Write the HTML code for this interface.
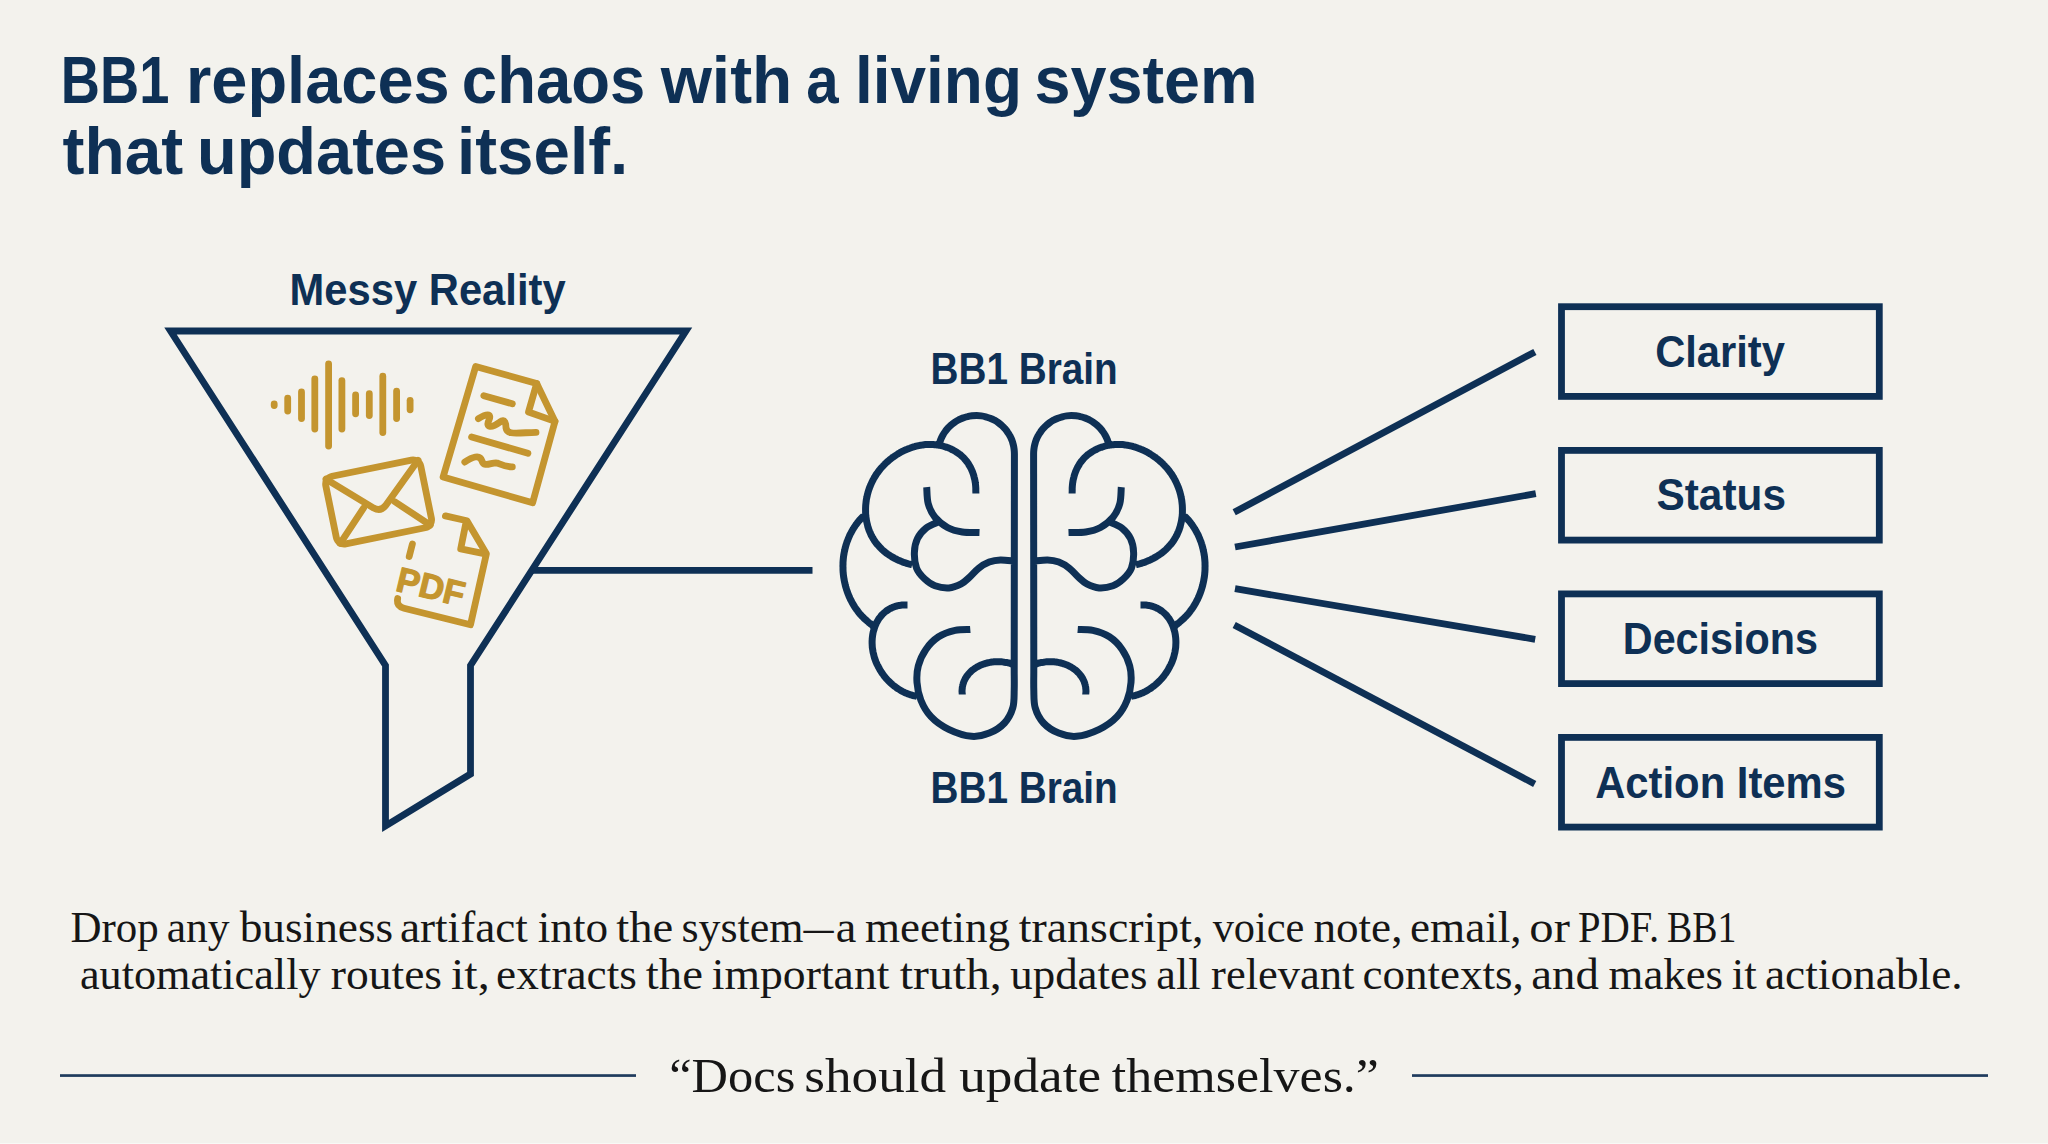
<!DOCTYPE html>
<html><head><meta charset="utf-8"><style>
html,body{margin:0;padding:0;background:#f3f2ed;}
svg{display:block}
</style></head><body>
<svg width="2048" height="1144" viewBox="0 0 2048 1144">
<rect width="2048" height="1144" fill="#f3f2ed"/>
<text x="60.80" y="102.90" font-family="Liberation Sans" font-size="66.8" font-weight="bold" fill="#0e3055" textLength="108.61" lengthAdjust="spacingAndGlyphs" >BB1</text>
<text x="186.05" y="102.90" font-family="Liberation Sans" font-size="66.8" font-weight="bold" fill="#0e3055" textLength="263.60" lengthAdjust="spacingAndGlyphs" >replaces</text>
<text x="461.86" y="102.90" font-family="Liberation Sans" font-size="66.8" font-weight="bold" fill="#0e3055" textLength="183.42" lengthAdjust="spacingAndGlyphs" >chaos</text>
<text x="660.70" y="102.90" font-family="Liberation Sans" font-size="66.8" font-weight="bold" fill="#0e3055" textLength="131.58" lengthAdjust="spacingAndGlyphs" >with</text>
<text x="806.15" y="102.90" font-family="Liberation Sans" font-size="66.8" font-weight="bold" fill="#0e3055" textLength="32.41" lengthAdjust="spacingAndGlyphs" >a</text>
<text x="855.02" y="102.90" font-family="Liberation Sans" font-size="66.8" font-weight="bold" fill="#0e3055" textLength="166.98" lengthAdjust="spacingAndGlyphs" >living</text>
<text x="1034.41" y="102.90" font-family="Liberation Sans" font-size="66.8" font-weight="bold" fill="#0e3055" textLength="223.17" lengthAdjust="spacingAndGlyphs" >system</text>
<text x="62.54" y="174.30" font-family="Liberation Sans" font-size="66.8" font-weight="bold" fill="#0e3055" textLength="120.78" lengthAdjust="spacingAndGlyphs" >that</text>
<text x="197.00" y="174.30" font-family="Liberation Sans" font-size="66.8" font-weight="bold" fill="#0e3055" textLength="249.11" lengthAdjust="spacingAndGlyphs" >updates</text>
<text x="457.12" y="174.30" font-family="Liberation Sans" font-size="66.8" font-weight="bold" fill="#0e3055" textLength="171.05" lengthAdjust="spacingAndGlyphs" >itself.</text>
<text x="289.58" y="304.70" font-family="Liberation Sans" font-size="44.6" font-weight="bold" fill="#0e3055" textLength="276.04" lengthAdjust="spacingAndGlyphs" >Messy Reality</text>
<text x="930.59" y="384.10" font-family="Liberation Sans" font-size="44.6" font-weight="bold" fill="#0e3055" textLength="187.09" lengthAdjust="spacingAndGlyphs" >BB1 Brain</text>
<text x="930.59" y="802.60" font-family="Liberation Sans" font-size="44.6" font-weight="bold" fill="#0e3055" textLength="187.09" lengthAdjust="spacingAndGlyphs" >BB1 Brain</text>
<text x="1655.13" y="366.90" font-family="Liberation Sans" font-size="44.6" font-weight="bold" fill="#0e3055" textLength="129.80" lengthAdjust="spacingAndGlyphs" >Clarity</text>
<text x="1656.53" y="510.00" font-family="Liberation Sans" font-size="44.6" font-weight="bold" fill="#0e3055" textLength="129.46" lengthAdjust="spacingAndGlyphs" >Status</text>
<text x="1622.81" y="653.70" font-family="Liberation Sans" font-size="44.6" font-weight="bold" fill="#0e3055" textLength="195.23" lengthAdjust="spacingAndGlyphs" >Decisions</text>
<text x="1595.15" y="797.60" font-family="Liberation Sans" font-size="44.6" font-weight="bold" fill="#0e3055" textLength="250.89" lengthAdjust="spacingAndGlyphs" >Action Items</text>
<text x="70.41" y="941.70" font-family="Liberation Serif" font-size="44" font-weight="normal" fill="#161616" textLength="88.23" lengthAdjust="spacingAndGlyphs" >Drop</text>
<text x="166.66" y="941.70" font-family="Liberation Serif" font-size="44" font-weight="normal" fill="#161616" textLength="62.85" lengthAdjust="spacingAndGlyphs" >any</text>
<text x="239.70" y="941.70" font-family="Liberation Serif" font-size="44" font-weight="normal" fill="#161616" textLength="153.53" lengthAdjust="spacingAndGlyphs" >business</text>
<text x="399.99" y="941.70" font-family="Liberation Serif" font-size="44" font-weight="normal" fill="#161616" textLength="127.86" lengthAdjust="spacingAndGlyphs" >artifact</text>
<text x="537.70" y="941.70" font-family="Liberation Serif" font-size="44" font-weight="normal" fill="#161616" textLength="70.38" lengthAdjust="spacingAndGlyphs" >into</text>
<text x="616.33" y="941.70" font-family="Liberation Serif" font-size="44" font-weight="normal" fill="#161616" textLength="57.01" lengthAdjust="spacingAndGlyphs" >the</text>
<text x="681.44" y="941.70" font-family="Liberation Serif" font-size="44" font-weight="normal" fill="#161616" textLength="122.09" lengthAdjust="spacingAndGlyphs" >system</text>
<text x="803.60" y="941.70" font-family="Liberation Serif" font-size="44" font-weight="normal" fill="#161616" textLength="30.10" lengthAdjust="spacingAndGlyphs" >—</text>
<text x="835.75" y="941.70" font-family="Liberation Serif" font-size="44" font-weight="normal" fill="#161616" textLength="20.56" lengthAdjust="spacingAndGlyphs" >a</text>
<text x="865.00" y="941.70" font-family="Liberation Serif" font-size="44" font-weight="normal" fill="#161616" textLength="144.91" lengthAdjust="spacingAndGlyphs" >meeting</text>
<text x="1018.74" y="941.70" font-family="Liberation Serif" font-size="44" font-weight="normal" fill="#161616" textLength="184.66" lengthAdjust="spacingAndGlyphs" >transcript,</text>
<text x="1212.70" y="941.70" font-family="Liberation Serif" font-size="44" font-weight="normal" fill="#161616" textLength="91.73" lengthAdjust="spacingAndGlyphs" >voice</text>
<text x="1313.40" y="941.70" font-family="Liberation Serif" font-size="44" font-weight="normal" fill="#161616" textLength="89.04" lengthAdjust="spacingAndGlyphs" >note,</text>
<text x="1410.09" y="941.70" font-family="Liberation Serif" font-size="44" font-weight="normal" fill="#161616" textLength="111.52" lengthAdjust="spacingAndGlyphs" >email,</text>
<text x="1529.35" y="941.70" font-family="Liberation Serif" font-size="44" font-weight="normal" fill="#161616" textLength="40.57" lengthAdjust="spacingAndGlyphs" >or</text>
<text x="1577.88" y="941.70" font-family="Liberation Serif" font-size="44" font-weight="normal" fill="#161616" textLength="81.34" lengthAdjust="spacingAndGlyphs" >PDF.</text>
<text x="1667.07" y="941.70" font-family="Liberation Serif" font-size="44" font-weight="normal" fill="#161616" textLength="69.33" lengthAdjust="spacingAndGlyphs" >BB1</text>
<text x="79.93" y="988.60" font-family="Liberation Serif" font-size="44" font-weight="normal" fill="#161616" textLength="240.62" lengthAdjust="spacingAndGlyphs" >automatically</text>
<text x="330.79" y="988.60" font-family="Liberation Serif" font-size="44" font-weight="normal" fill="#161616" textLength="111.31" lengthAdjust="spacingAndGlyphs" >routes</text>
<text x="451.04" y="988.60" font-family="Liberation Serif" font-size="44" font-weight="normal" fill="#161616" textLength="38.70" lengthAdjust="spacingAndGlyphs" >it,</text>
<text x="496.09" y="988.60" font-family="Liberation Serif" font-size="44" font-weight="normal" fill="#161616" textLength="140.75" lengthAdjust="spacingAndGlyphs" >extracts</text>
<text x="645.83" y="988.60" font-family="Liberation Serif" font-size="44" font-weight="normal" fill="#161616" textLength="57.12" lengthAdjust="spacingAndGlyphs" >the</text>
<text x="711.79" y="988.60" font-family="Liberation Serif" font-size="44" font-weight="normal" fill="#161616" textLength="177.65" lengthAdjust="spacingAndGlyphs" >important</text>
<text x="899.82" y="988.60" font-family="Liberation Serif" font-size="44" font-weight="normal" fill="#161616" textLength="101.93" lengthAdjust="spacingAndGlyphs" >truth,</text>
<text x="1010.25" y="988.60" font-family="Liberation Serif" font-size="44" font-weight="normal" fill="#161616" textLength="137.16" lengthAdjust="spacingAndGlyphs" >updates</text>
<text x="1156.34" y="988.60" font-family="Liberation Serif" font-size="44" font-weight="normal" fill="#161616" textLength="44.07" lengthAdjust="spacingAndGlyphs" >all</text>
<text x="1211.11" y="988.60" font-family="Liberation Serif" font-size="44" font-weight="normal" fill="#161616" textLength="143.40" lengthAdjust="spacingAndGlyphs" >relevant</text>
<text x="1362.50" y="988.60" font-family="Liberation Serif" font-size="44" font-weight="normal" fill="#161616" textLength="161.27" lengthAdjust="spacingAndGlyphs" >contexts,</text>
<text x="1531.33" y="988.60" font-family="Liberation Serif" font-size="44" font-weight="normal" fill="#161616" textLength="67.59" lengthAdjust="spacingAndGlyphs" >and</text>
<text x="1608.61" y="988.60" font-family="Liberation Serif" font-size="44" font-weight="normal" fill="#161616" textLength="114.29" lengthAdjust="spacingAndGlyphs" >makes</text>
<text x="1731.70" y="988.60" font-family="Liberation Serif" font-size="44" font-weight="normal" fill="#161616" textLength="25.01" lengthAdjust="spacingAndGlyphs" >it</text>
<text x="1764.99" y="988.60" font-family="Liberation Serif" font-size="44" font-weight="normal" fill="#161616" textLength="197.69" lengthAdjust="spacingAndGlyphs" >actionable.</text>
<text x="669.18" y="1092.00" font-family="Liberation Serif" font-size="49" font-weight="normal" fill="#161616" textLength="126.10" lengthAdjust="spacingAndGlyphs" >“Docs</text>
<text x="804.37" y="1092.00" font-family="Liberation Serif" font-size="49" font-weight="normal" fill="#161616" textLength="141.73" lengthAdjust="spacingAndGlyphs" >should</text>
<text x="959.27" y="1092.00" font-family="Liberation Serif" font-size="49" font-weight="normal" fill="#161616" textLength="141.76" lengthAdjust="spacingAndGlyphs" >update</text>
<text x="1111.78" y="1092.00" font-family="Liberation Serif" font-size="49" font-weight="normal" fill="#161616" textLength="267.20" lengthAdjust="spacingAndGlyphs" >themselves.”</text>
<rect x="60" y="1074.2" width="576" height="2.7" fill="#1f3b5d"/>
<rect x="1412" y="1074.2" width="576" height="2.7" fill="#1f3b5d"/>
<path d="M170.5,331 L686,331 L470.5,665.5 L470.5,774 L385.5,826 L385.5,665.5 Z" fill="none" stroke="#0e3055" stroke-width="6.8" stroke-linejoin="miter" stroke-miterlimit="10"/>
<line x1="532" y1="570.3" x2="812.5" y2="570.3" stroke="#0e3055" stroke-width="6.8"/>
<line x1="1234.2" y1="512.3" x2="1534.9" y2="351.9" stroke="#0e3055" stroke-width="6.8"/>
<line x1="1235" y1="547" x2="1535.8" y2="493.6" stroke="#0e3055" stroke-width="6.8"/>
<line x1="1235" y1="588.7" x2="1535.2" y2="639.3" stroke="#0e3055" stroke-width="6.8"/>
<line x1="1234.2" y1="624.9" x2="1534.7" y2="783.9" stroke="#0e3055" stroke-width="6.8"/>
<rect x="1561.5" y="306.7" width="317.8" height="89.7" fill="none" stroke="#0e3055" stroke-width="6.8"/>
<rect x="1561.5" y="450.4" width="317.8" height="89.7" fill="none" stroke="#0e3055" stroke-width="6.8"/>
<rect x="1561.5" y="593.9" width="317.8" height="89.7" fill="none" stroke="#0e3055" stroke-width="6.8"/>
<rect x="1561.5" y="737.4" width="317.8" height="89.7" fill="none" stroke="#0e3055" stroke-width="6.8"/>
<g fill="none" stroke="#0e3055" stroke-width="7" stroke-linecap="butt" stroke-linejoin="round">
<path d="M939.3,443.8 C939.6,443.1 940.2,440.9 940.8,439.4 C941.4,438.0 942.0,436.7 942.8,435.3 C943.5,434.0 944.3,432.7 945.2,431.5 C946.1,430.2 947.1,429.0 948.1,427.9 C949.1,426.8 950.2,425.7 951.4,424.7 C952.6,423.8 953.8,422.8 955.1,422.0 C956.3,421.1 957.7,420.4 959.0,419.7 C960.4,419.0 961.8,418.4 963.2,417.9 C964.7,417.4 966.1,416.9 967.6,416.6 C969.1,416.2 970.6,416.0 972.1,415.8 C973.6,415.7 975.2,415.6 976.7,415.6 C978.2,415.6 979.7,415.7 981.3,415.9 C982.8,416.1 984.3,416.4 985.7,416.8 C987.2,417.2 988.7,417.7 990.1,418.2 C991.5,418.8 992.9,419.4 994.3,420.1 C995.6,420.9 996.9,421.7 998.1,422.5 C999.4,423.4 1000.6,424.4 1001.7,425.4 C1002.9,426.4 1003.9,427.5 1004.9,428.6 C1005.9,429.8 1006.9,431.0 1007.7,432.3 C1008.6,433.5 1009.4,434.8 1010.1,436.2 C1010.8,437.5 1011.4,438.9 1012.0,440.4 C1012.5,441.8 1012.9,443.3 1013.3,444.7 C1013.7,446.2 1013.9,447.7 1014.1,449.2 C1014.3,450.7 1014.4,451.7 1014.4,453.8 C1014.4,455.9 1014.4,460.6 1014.4,462.0 L1014.2,672  C1014.2,675.0 1014.4,684.0 1014.2,690.0 C1014.0,696.0 1014.4,702.3 1012.8,707.8 C1011.2,713.3 1008.4,718.8 1004.5,723.0 C1000.6,727.2 994.8,730.9 989.3,733.1 C983.8,735.3 978.4,736.9 971.6,736.3 C964.8,735.7 955.5,732.6 948.7,729.3 C941.9,726.0 935.6,721.5 931.0,716.6 C926.4,711.8 923.2,705.9 920.9,700.2 C918.6,694.5 917.4,688.1 917.0,682.4 C916.6,676.7 916.8,671.4 918.3,665.9 C919.8,660.4 922.5,654.2 925.9,649.4 C929.3,644.5 933.7,640.0 938.6,636.8 C943.5,633.6 949.8,631.6 955.1,630.4 C960.4,629.2 967.8,629.6 970.3,629.4 M975.9,493.4 C975.9,493.0 975.8,491.7 975.8,490.8 C975.8,489.9 975.8,489.0 975.8,488.0 C975.7,487.1 975.7,486.2 975.6,485.3 C975.5,484.3 975.4,483.4 975.3,482.5 C975.1,481.6 975.0,480.7 974.8,479.8 C974.6,478.9 974.4,478.0 974.1,477.1 C973.9,476.2 973.7,475.3 973.4,474.4 C973.1,473.6 972.8,472.7 972.5,471.8 C972.1,471.0 971.8,470.1 971.4,469.3 C971.0,468.5 970.6,467.7 970.2,466.9 C969.8,466.1 969.3,465.3 968.8,464.6 C968.4,463.8 967.9,463.1 967.4,462.3 C966.8,461.6 966.3,460.9 965.7,460.2 C965.2,459.5 964.6,458.9 964.0,458.2 C963.4,457.6 962.7,457.0 962.1,456.4 C961.4,455.8 960.8,455.2 960.1,454.7 C959.4,454.1 958.7,453.6 958.0,453.1 C957.2,452.6 956.5,452.1 955.8,451.6 C955.0,451.1 954.2,450.7 953.5,450.3 C952.7,449.8 951.9,449.4 951.1,449.1 C950.3,448.7 949.5,448.3 948.7,448.0 C947.9,447.7 947.0,447.4 946.2,447.1 C945.4,446.8 944.5,446.5 943.7,446.3 C942.8,446.0 942.0,445.8 941.1,445.6 C940.2,445.4 939.4,445.3 938.5,445.1 C937.6,445.0 936.8,444.9 935.9,444.8 C935.0,444.7 934.2,444.6 933.3,444.5 C932.4,444.5 931.5,444.4 930.6,444.4 C929.8,444.4 928.9,444.4 928.0,444.5 C927.1,444.5 926.3,444.6 925.4,444.6 C924.5,444.7 923.6,444.8 922.7,444.9 C921.9,445.0 921.0,445.2 920.1,445.3 C919.2,445.5 918.4,445.7 917.5,445.9 C916.6,446.1 915.8,446.3 914.9,446.5 C914.0,446.8 913.2,447.0 912.3,447.3 C911.5,447.6 910.6,447.9 909.8,448.2 C908.9,448.5 908.1,448.8 907.3,449.2 C906.4,449.5 905.6,449.9 904.8,450.2 C904.0,450.6 903.1,451.0 902.3,451.4 C901.5,451.8 900.7,452.3 899.9,452.7 C899.1,453.2 898.3,453.6 897.6,454.1 C896.8,454.6 896.0,455.1 895.3,455.6 C894.5,456.1 893.8,456.6 893.0,457.2 C892.3,457.7 891.5,458.3 890.8,458.8 C890.1,459.4 889.4,460.0 888.7,460.6 C888.0,461.2 887.3,461.8 886.6,462.4 C886.0,463.0 885.3,463.6 884.7,464.3 C884.0,464.9 883.4,465.6 882.8,466.3 C882.1,466.9 881.5,467.6 880.9,468.3 C880.3,469.0 879.8,469.7 879.2,470.4 C878.6,471.2 878.1,471.9 877.6,472.6 C877.0,473.4 876.5,474.1 876.0,474.9 C875.5,475.6 875.0,476.4 874.6,477.2 C874.1,478.0 873.7,478.8 873.2,479.6 C872.8,480.4 872.4,481.2 872.0,482.0 C871.6,482.8 871.2,483.6 870.9,484.5 C870.5,485.3 870.2,486.1 869.8,487.0 C869.5,487.8 869.2,488.7 868.9,489.5 C868.6,490.4 868.4,491.2 868.1,492.1 C867.9,493.0 867.6,493.9 867.4,494.7 C867.2,495.6 867.0,496.5 866.8,497.4 C866.6,498.2 866.5,499.1 866.3,500.0 C866.2,500.9 866.1,501.8 866.0,502.7 C865.9,503.6 865.8,504.5 865.7,505.3 C865.7,506.2 865.6,507.1 865.6,508.0 C865.6,508.9 865.5,509.8 865.6,510.7 C865.6,511.6 865.6,512.5 865.6,513.3 C865.7,514.2 865.8,515.1 865.8,516.0 C865.9,516.9 866.0,517.8 866.2,518.6 C866.3,519.5 866.4,520.4 866.6,521.2 C866.8,522.1 867.0,523.0 867.2,523.8 C867.4,524.7 867.6,525.5 867.8,526.3 C868.1,527.2 868.3,528.0 868.6,528.8 C868.9,529.7 869.2,530.5 869.5,531.3 C869.9,532.1 870.2,532.9 870.6,533.7 C870.9,534.5 871.3,535.3 871.7,536.1 C872.1,536.8 872.6,537.6 873.0,538.4 C873.5,539.1 873.9,539.9 874.4,540.6 C874.9,541.3 875.4,542.0 875.9,542.7 C876.5,543.4 877.0,544.1 877.6,544.8 C878.2,545.5 878.8,546.2 879.4,546.8 C880.0,547.5 880.6,548.1 881.3,548.7 C881.9,549.4 882.6,550.0 883.3,550.6 C884.0,551.2 884.7,551.7 885.4,552.3 C886.1,552.9 886.8,553.4 887.6,554.0 C888.3,554.5 889.1,555.0 889.9,555.5 C890.6,556.0 891.4,556.5 892.2,557.0 C893.0,557.4 893.8,557.9 894.6,558.3 C895.4,558.7 896.3,559.2 897.1,559.6 C897.9,560.0 898.8,560.3 899.6,560.7 C900.4,561.1 901.3,561.4 902.1,561.7 C903.0,562.1 903.8,562.4 904.6,562.7 C905.5,562.9 906.3,563.2 907.2,563.5 C908.0,563.7 908.9,563.9 909.7,564.2 C910.6,564.4 911.8,564.6 912.2,564.7 M926.7,487.2 C927.0,489.9 926.8,498.6 928.2,503.6 C929.6,508.6 931.8,513.3 935.0,517.3 C938.2,521.3 943.0,525.0 947.5,527.5 C952.0,530.0 957.0,531.2 962.3,532.0 C967.6,532.8 976.6,532.4 979.5,532.5 M938.5,521.9 C936.5,522.9 929.7,525.2 926.2,528.0 C922.7,530.8 919.5,534.4 917.5,538.5 C915.5,542.6 914.5,547.4 914.4,552.4 C914.2,557.4 914.9,563.8 916.6,568.2 C918.3,572.6 921.4,575.8 924.5,578.7 C927.6,581.6 930.9,584.2 935.0,585.7 C939.1,587.2 944.6,588.2 949.0,587.9 C953.4,587.6 957.7,585.7 961.2,583.9 C964.7,582.1 967.0,579.5 969.9,576.9 C972.8,574.3 975.5,570.7 978.7,568.2 C981.9,565.7 985.6,563.5 989.2,562.1 C992.8,560.7 996.3,560.0 1000.5,559.9 C1004.7,559.8 1011.9,561.0 1014.2,561.2 M863.7,515.9 C863.4,516.2 862.6,517.0 862.0,517.5 C861.5,518.1 860.9,518.7 860.4,519.3 C859.8,519.9 859.3,520.5 858.8,521.1 C858.3,521.7 857.8,522.3 857.3,523.0 C856.8,523.6 856.3,524.2 855.8,524.9 C855.4,525.5 854.9,526.2 854.5,526.9 C854.1,527.5 853.6,528.2 853.2,528.9 C852.8,529.5 852.4,530.2 852.0,530.9 C851.6,531.6 851.2,532.3 850.9,533.0 C850.5,533.7 850.2,534.4 849.8,535.1 C849.5,535.8 849.2,536.5 848.9,537.2 C848.5,538.0 848.2,538.7 848.0,539.4 C847.7,540.2 847.4,540.9 847.1,541.6 C846.9,542.4 846.6,543.1 846.4,543.9 C846.1,544.6 845.9,545.4 845.7,546.1 C845.5,546.9 845.3,547.6 845.1,548.4 C844.9,549.2 844.7,549.9 844.6,550.7 C844.4,551.5 844.3,552.2 844.1,553.0 C844.0,553.8 843.9,554.6 843.7,555.3 C843.6,556.1 843.5,556.9 843.4,557.7 C843.3,558.4 843.3,559.2 843.2,560.0 C843.1,560.8 843.1,561.6 843.0,562.4 C843.0,563.1 843.0,563.9 843.0,564.7 C842.9,565.5 842.9,566.3 843.0,567.1 C843.0,567.9 843.0,568.7 843.0,569.4 C843.0,570.2 843.1,571.0 843.1,571.8 C843.2,572.6 843.3,573.4 843.3,574.1 C843.4,574.9 843.5,575.7 843.6,576.5 C843.7,577.3 843.8,578.0 844.0,578.8 C844.1,579.6 844.2,580.4 844.4,581.1 C844.5,581.9 844.7,582.7 844.9,583.5 C845.1,584.2 845.3,585.0 845.4,585.7 C845.6,586.5 845.9,587.3 846.1,588.0 C846.3,588.8 846.5,589.5 846.8,590.3 C847.0,591.0 847.3,591.8 847.6,592.5 C847.8,593.2 848.1,594.0 848.4,594.7 C848.7,595.4 849.0,596.1 849.3,596.9 C849.6,597.6 850.0,598.3 850.3,599.0 C850.6,599.7 851.0,600.4 851.4,601.1 C851.7,601.8 852.1,602.5 852.5,603.2 C852.9,603.9 853.3,604.6 853.7,605.2 C854.1,605.9 854.5,606.6 854.9,607.2 C855.4,607.9 855.8,608.5 856.3,609.2 C856.7,609.8 857.2,610.4 857.7,611.1 C858.1,611.7 858.6,612.3 859.1,612.9 C859.6,613.5 860.1,614.1 860.7,614.7 C861.2,615.3 861.7,615.9 862.3,616.5 C862.8,617.1 863.4,617.6 863.9,618.2 C864.5,618.8 865.1,619.3 865.7,619.8 C866.3,620.4 866.9,620.9 867.5,621.4 C868.1,622.0 868.7,622.5 869.3,623.0 C870.0,623.5 870.7,623.9 871.3,624.4 C871.9,624.9 872.6,625.8 872.9,626.1 M907.5,605.1 C907.1,605.1 905.8,605.0 904.9,605.0 C904.0,605.0 903.0,605.0 902.1,605.1 C901.2,605.2 900.3,605.3 899.4,605.4 C898.5,605.6 897.7,605.8 896.8,606.0 C896.0,606.2 895.2,606.4 894.4,606.7 C893.6,607.0 892.8,607.3 892.0,607.7 C891.3,608.0 890.5,608.4 889.8,608.8 C889.1,609.2 888.4,609.6 887.7,610.1 C887.0,610.5 886.3,611.0 885.7,611.5 C885.0,612.0 884.4,612.5 883.8,613.1 C883.2,613.6 882.6,614.2 882.1,614.8 C881.5,615.4 881.0,616.0 880.5,616.7 C880.0,617.3 879.5,618.0 879.0,618.6 C878.6,619.3 878.1,620.0 877.7,620.7 C877.3,621.4 876.9,622.1 876.5,622.8 C876.2,623.6 875.8,624.3 875.5,625.1 C875.2,625.8 874.9,626.6 874.6,627.4 C874.3,628.2 874.1,629.0 873.9,629.8 C873.6,630.6 873.4,631.4 873.2,632.2 C873.0,633.0 872.9,633.8 872.7,634.7 C872.6,635.5 872.5,636.3 872.4,637.2 C872.3,638.0 872.2,638.8 872.2,639.7 C872.1,640.5 872.1,641.4 872.1,642.2 C872.1,643.0 872.1,643.9 872.2,644.7 C872.2,645.6 872.3,646.4 872.3,647.3 C872.4,648.1 872.5,648.9 872.7,649.8 C872.8,650.6 872.9,651.4 873.1,652.3 C873.3,653.1 873.5,653.9 873.7,654.7 C873.9,655.5 874.1,656.4 874.3,657.2 C874.6,658.0 874.8,658.8 875.1,659.6 C875.4,660.4 875.7,661.2 876.0,662.0 C876.4,662.7 876.7,663.5 877.0,664.3 C877.4,665.1 877.8,665.8 878.2,666.6 C878.6,667.3 879.0,668.1 879.4,668.8 C879.8,669.6 880.2,670.3 880.7,671.0 C881.1,671.7 881.6,672.4 882.1,673.1 C882.6,673.9 883.1,674.5 883.6,675.2 C884.1,675.9 884.6,676.6 885.2,677.2 C885.7,677.9 886.3,678.5 886.9,679.2 C887.4,679.8 888.0,680.4 888.6,681.0 C889.2,681.6 889.8,682.2 890.4,682.8 C891.0,683.4 891.7,683.9 892.3,684.5 C893.0,685.0 893.6,685.6 894.3,686.1 C895.0,686.6 895.6,687.1 896.3,687.6 C897.0,688.1 897.7,688.6 898.4,689.0 C899.1,689.5 899.8,689.9 900.6,690.3 C901.3,690.8 902.0,691.2 902.8,691.6 C903.5,691.9 904.3,692.3 905.0,692.7 C905.8,693.0 906.6,693.3 907.3,693.6 C908.1,693.9 908.9,694.2 909.7,694.5 C910.5,694.8 911.3,695.0 912.1,695.2 C912.9,695.5 913.7,695.7 914.5,695.9 C915.3,696.0 916.6,696.3 917.0,696.4 M962.3,694.5 C962.3,694.1 962.1,693.1 962.1,692.3 C962.0,691.6 962.0,690.9 962.1,690.1 C962.1,689.4 962.2,688.7 962.3,688.0 C962.3,687.3 962.4,686.6 962.6,685.9 C962.7,685.3 962.9,684.6 963.1,684.0 C963.3,683.3 963.5,682.7 963.7,682.0 C963.9,681.4 964.2,680.8 964.5,680.2 C964.8,679.6 965.1,679.0 965.4,678.4 C965.7,677.9 966.1,677.3 966.4,676.8 C966.8,676.2 967.2,675.7 967.6,675.2 C968.0,674.6 968.4,674.1 968.8,673.6 C969.3,673.1 969.7,672.7 970.2,672.2 C970.7,671.7 971.1,671.3 971.6,670.8 C972.1,670.4 972.7,670.0 973.2,669.6 C973.7,669.2 974.3,668.8 974.8,668.4 C975.4,668.0 975.9,667.7 976.5,667.3 C977.1,667.0 977.7,666.6 978.3,666.3 C978.9,666.0 979.5,665.7 980.1,665.4 C980.8,665.1 981.4,664.9 982.0,664.6 C982.7,664.4 983.3,664.1 984.0,663.9 C984.6,663.7 985.3,663.5 985.9,663.3 C986.6,663.1 987.3,662.9 987.9,662.8 C988.6,662.6 989.3,662.5 990.0,662.4 C990.7,662.3 991.3,662.1 992.0,662.1 C992.7,662.0 993.4,661.9 994.1,661.8 C994.8,661.8 995.5,661.7 996.2,661.7 C996.9,661.7 997.6,661.7 998.3,661.7 C998.9,661.7 999.6,661.7 1000.3,661.7 C1001.0,661.8 1001.7,661.8 1002.4,661.9 C1003.1,662.0 1003.8,662.1 1004.4,662.2 C1005.1,662.3 1005.8,662.4 1006.5,662.5 C1007.1,662.6 1007.8,662.8 1008.4,662.9 C1009.1,663.1 1009.8,663.3 1010.4,663.5 C1011.0,663.7 1011.7,663.9 1012.3,664.1 C1012.9,664.3 1013.9,664.6 1014.2,664.7"/>
<path d="M939.3,443.8 C939.6,443.1 940.2,440.9 940.8,439.4 C941.4,438.0 942.0,436.7 942.8,435.3 C943.5,434.0 944.3,432.7 945.2,431.5 C946.1,430.2 947.1,429.0 948.1,427.9 C949.1,426.8 950.2,425.7 951.4,424.7 C952.6,423.8 953.8,422.8 955.1,422.0 C956.3,421.1 957.7,420.4 959.0,419.7 C960.4,419.0 961.8,418.4 963.2,417.9 C964.7,417.4 966.1,416.9 967.6,416.6 C969.1,416.2 970.6,416.0 972.1,415.8 C973.6,415.7 975.2,415.6 976.7,415.6 C978.2,415.6 979.7,415.7 981.3,415.9 C982.8,416.1 984.3,416.4 985.7,416.8 C987.2,417.2 988.7,417.7 990.1,418.2 C991.5,418.8 992.9,419.4 994.3,420.1 C995.6,420.9 996.9,421.7 998.1,422.5 C999.4,423.4 1000.6,424.4 1001.7,425.4 C1002.9,426.4 1003.9,427.5 1004.9,428.6 C1005.9,429.8 1006.9,431.0 1007.7,432.3 C1008.6,433.5 1009.4,434.8 1010.1,436.2 C1010.8,437.5 1011.4,438.9 1012.0,440.4 C1012.5,441.8 1012.9,443.3 1013.3,444.7 C1013.7,446.2 1013.9,447.7 1014.1,449.2 C1014.3,450.7 1014.4,451.7 1014.4,453.8 C1014.4,455.9 1014.4,460.6 1014.4,462.0 L1014.2,672  C1014.2,675.0 1014.4,684.0 1014.2,690.0 C1014.0,696.0 1014.4,702.3 1012.8,707.8 C1011.2,713.3 1008.4,718.8 1004.5,723.0 C1000.6,727.2 994.8,730.9 989.3,733.1 C983.8,735.3 978.4,736.9 971.6,736.3 C964.8,735.7 955.5,732.6 948.7,729.3 C941.9,726.0 935.6,721.5 931.0,716.6 C926.4,711.8 923.2,705.9 920.9,700.2 C918.6,694.5 917.4,688.1 917.0,682.4 C916.6,676.7 916.8,671.4 918.3,665.9 C919.8,660.4 922.5,654.2 925.9,649.4 C929.3,644.5 933.7,640.0 938.6,636.8 C943.5,633.6 949.8,631.6 955.1,630.4 C960.4,629.2 967.8,629.6 970.3,629.4 M975.9,493.4 C975.9,493.0 975.8,491.7 975.8,490.8 C975.8,489.9 975.8,489.0 975.8,488.0 C975.7,487.1 975.7,486.2 975.6,485.3 C975.5,484.3 975.4,483.4 975.3,482.5 C975.1,481.6 975.0,480.7 974.8,479.8 C974.6,478.9 974.4,478.0 974.1,477.1 C973.9,476.2 973.7,475.3 973.4,474.4 C973.1,473.6 972.8,472.7 972.5,471.8 C972.1,471.0 971.8,470.1 971.4,469.3 C971.0,468.5 970.6,467.7 970.2,466.9 C969.8,466.1 969.3,465.3 968.8,464.6 C968.4,463.8 967.9,463.1 967.4,462.3 C966.8,461.6 966.3,460.9 965.7,460.2 C965.2,459.5 964.6,458.9 964.0,458.2 C963.4,457.6 962.7,457.0 962.1,456.4 C961.4,455.8 960.8,455.2 960.1,454.7 C959.4,454.1 958.7,453.6 958.0,453.1 C957.2,452.6 956.5,452.1 955.8,451.6 C955.0,451.1 954.2,450.7 953.5,450.3 C952.7,449.8 951.9,449.4 951.1,449.1 C950.3,448.7 949.5,448.3 948.7,448.0 C947.9,447.7 947.0,447.4 946.2,447.1 C945.4,446.8 944.5,446.5 943.7,446.3 C942.8,446.0 942.0,445.8 941.1,445.6 C940.2,445.4 939.4,445.3 938.5,445.1 C937.6,445.0 936.8,444.9 935.9,444.8 C935.0,444.7 934.2,444.6 933.3,444.5 C932.4,444.5 931.5,444.4 930.6,444.4 C929.8,444.4 928.9,444.4 928.0,444.5 C927.1,444.5 926.3,444.6 925.4,444.6 C924.5,444.7 923.6,444.8 922.7,444.9 C921.9,445.0 921.0,445.2 920.1,445.3 C919.2,445.5 918.4,445.7 917.5,445.9 C916.6,446.1 915.8,446.3 914.9,446.5 C914.0,446.8 913.2,447.0 912.3,447.3 C911.5,447.6 910.6,447.9 909.8,448.2 C908.9,448.5 908.1,448.8 907.3,449.2 C906.4,449.5 905.6,449.9 904.8,450.2 C904.0,450.6 903.1,451.0 902.3,451.4 C901.5,451.8 900.7,452.3 899.9,452.7 C899.1,453.2 898.3,453.6 897.6,454.1 C896.8,454.6 896.0,455.1 895.3,455.6 C894.5,456.1 893.8,456.6 893.0,457.2 C892.3,457.7 891.5,458.3 890.8,458.8 C890.1,459.4 889.4,460.0 888.7,460.6 C888.0,461.2 887.3,461.8 886.6,462.4 C886.0,463.0 885.3,463.6 884.7,464.3 C884.0,464.9 883.4,465.6 882.8,466.3 C882.1,466.9 881.5,467.6 880.9,468.3 C880.3,469.0 879.8,469.7 879.2,470.4 C878.6,471.2 878.1,471.9 877.6,472.6 C877.0,473.4 876.5,474.1 876.0,474.9 C875.5,475.6 875.0,476.4 874.6,477.2 C874.1,478.0 873.7,478.8 873.2,479.6 C872.8,480.4 872.4,481.2 872.0,482.0 C871.6,482.8 871.2,483.6 870.9,484.5 C870.5,485.3 870.2,486.1 869.8,487.0 C869.5,487.8 869.2,488.7 868.9,489.5 C868.6,490.4 868.4,491.2 868.1,492.1 C867.9,493.0 867.6,493.9 867.4,494.7 C867.2,495.6 867.0,496.5 866.8,497.4 C866.6,498.2 866.5,499.1 866.3,500.0 C866.2,500.9 866.1,501.8 866.0,502.7 C865.9,503.6 865.8,504.5 865.7,505.3 C865.7,506.2 865.6,507.1 865.6,508.0 C865.6,508.9 865.5,509.8 865.6,510.7 C865.6,511.6 865.6,512.5 865.6,513.3 C865.7,514.2 865.8,515.1 865.8,516.0 C865.9,516.9 866.0,517.8 866.2,518.6 C866.3,519.5 866.4,520.4 866.6,521.2 C866.8,522.1 867.0,523.0 867.2,523.8 C867.4,524.7 867.6,525.5 867.8,526.3 C868.1,527.2 868.3,528.0 868.6,528.8 C868.9,529.7 869.2,530.5 869.5,531.3 C869.9,532.1 870.2,532.9 870.6,533.7 C870.9,534.5 871.3,535.3 871.7,536.1 C872.1,536.8 872.6,537.6 873.0,538.4 C873.5,539.1 873.9,539.9 874.4,540.6 C874.9,541.3 875.4,542.0 875.9,542.7 C876.5,543.4 877.0,544.1 877.6,544.8 C878.2,545.5 878.8,546.2 879.4,546.8 C880.0,547.5 880.6,548.1 881.3,548.7 C881.9,549.4 882.6,550.0 883.3,550.6 C884.0,551.2 884.7,551.7 885.4,552.3 C886.1,552.9 886.8,553.4 887.6,554.0 C888.3,554.5 889.1,555.0 889.9,555.5 C890.6,556.0 891.4,556.5 892.2,557.0 C893.0,557.4 893.8,557.9 894.6,558.3 C895.4,558.7 896.3,559.2 897.1,559.6 C897.9,560.0 898.8,560.3 899.6,560.7 C900.4,561.1 901.3,561.4 902.1,561.7 C903.0,562.1 903.8,562.4 904.6,562.7 C905.5,562.9 906.3,563.2 907.2,563.5 C908.0,563.7 908.9,563.9 909.7,564.2 C910.6,564.4 911.8,564.6 912.2,564.7 M926.7,487.2 C927.0,489.9 926.8,498.6 928.2,503.6 C929.6,508.6 931.8,513.3 935.0,517.3 C938.2,521.3 943.0,525.0 947.5,527.5 C952.0,530.0 957.0,531.2 962.3,532.0 C967.6,532.8 976.6,532.4 979.5,532.5 M938.5,521.9 C936.5,522.9 929.7,525.2 926.2,528.0 C922.7,530.8 919.5,534.4 917.5,538.5 C915.5,542.6 914.5,547.4 914.4,552.4 C914.2,557.4 914.9,563.8 916.6,568.2 C918.3,572.6 921.4,575.8 924.5,578.7 C927.6,581.6 930.9,584.2 935.0,585.7 C939.1,587.2 944.6,588.2 949.0,587.9 C953.4,587.6 957.7,585.7 961.2,583.9 C964.7,582.1 967.0,579.5 969.9,576.9 C972.8,574.3 975.5,570.7 978.7,568.2 C981.9,565.7 985.6,563.5 989.2,562.1 C992.8,560.7 996.3,560.0 1000.5,559.9 C1004.7,559.8 1011.9,561.0 1014.2,561.2 M863.7,515.9 C863.4,516.2 862.6,517.0 862.0,517.5 C861.5,518.1 860.9,518.7 860.4,519.3 C859.8,519.9 859.3,520.5 858.8,521.1 C858.3,521.7 857.8,522.3 857.3,523.0 C856.8,523.6 856.3,524.2 855.8,524.9 C855.4,525.5 854.9,526.2 854.5,526.9 C854.1,527.5 853.6,528.2 853.2,528.9 C852.8,529.5 852.4,530.2 852.0,530.9 C851.6,531.6 851.2,532.3 850.9,533.0 C850.5,533.7 850.2,534.4 849.8,535.1 C849.5,535.8 849.2,536.5 848.9,537.2 C848.5,538.0 848.2,538.7 848.0,539.4 C847.7,540.2 847.4,540.9 847.1,541.6 C846.9,542.4 846.6,543.1 846.4,543.9 C846.1,544.6 845.9,545.4 845.7,546.1 C845.5,546.9 845.3,547.6 845.1,548.4 C844.9,549.2 844.7,549.9 844.6,550.7 C844.4,551.5 844.3,552.2 844.1,553.0 C844.0,553.8 843.9,554.6 843.7,555.3 C843.6,556.1 843.5,556.9 843.4,557.7 C843.3,558.4 843.3,559.2 843.2,560.0 C843.1,560.8 843.1,561.6 843.0,562.4 C843.0,563.1 843.0,563.9 843.0,564.7 C842.9,565.5 842.9,566.3 843.0,567.1 C843.0,567.9 843.0,568.7 843.0,569.4 C843.0,570.2 843.1,571.0 843.1,571.8 C843.2,572.6 843.3,573.4 843.3,574.1 C843.4,574.9 843.5,575.7 843.6,576.5 C843.7,577.3 843.8,578.0 844.0,578.8 C844.1,579.6 844.2,580.4 844.4,581.1 C844.5,581.9 844.7,582.7 844.9,583.5 C845.1,584.2 845.3,585.0 845.4,585.7 C845.6,586.5 845.9,587.3 846.1,588.0 C846.3,588.8 846.5,589.5 846.8,590.3 C847.0,591.0 847.3,591.8 847.6,592.5 C847.8,593.2 848.1,594.0 848.4,594.7 C848.7,595.4 849.0,596.1 849.3,596.9 C849.6,597.6 850.0,598.3 850.3,599.0 C850.6,599.7 851.0,600.4 851.4,601.1 C851.7,601.8 852.1,602.5 852.5,603.2 C852.9,603.9 853.3,604.6 853.7,605.2 C854.1,605.9 854.5,606.6 854.9,607.2 C855.4,607.9 855.8,608.5 856.3,609.2 C856.7,609.8 857.2,610.4 857.7,611.1 C858.1,611.7 858.6,612.3 859.1,612.9 C859.6,613.5 860.1,614.1 860.7,614.7 C861.2,615.3 861.7,615.9 862.3,616.5 C862.8,617.1 863.4,617.6 863.9,618.2 C864.5,618.8 865.1,619.3 865.7,619.8 C866.3,620.4 866.9,620.9 867.5,621.4 C868.1,622.0 868.7,622.5 869.3,623.0 C870.0,623.5 870.7,623.9 871.3,624.4 C871.9,624.9 872.6,625.8 872.9,626.1 M907.5,605.1 C907.1,605.1 905.8,605.0 904.9,605.0 C904.0,605.0 903.0,605.0 902.1,605.1 C901.2,605.2 900.3,605.3 899.4,605.4 C898.5,605.6 897.7,605.8 896.8,606.0 C896.0,606.2 895.2,606.4 894.4,606.7 C893.6,607.0 892.8,607.3 892.0,607.7 C891.3,608.0 890.5,608.4 889.8,608.8 C889.1,609.2 888.4,609.6 887.7,610.1 C887.0,610.5 886.3,611.0 885.7,611.5 C885.0,612.0 884.4,612.5 883.8,613.1 C883.2,613.6 882.6,614.2 882.1,614.8 C881.5,615.4 881.0,616.0 880.5,616.7 C880.0,617.3 879.5,618.0 879.0,618.6 C878.6,619.3 878.1,620.0 877.7,620.7 C877.3,621.4 876.9,622.1 876.5,622.8 C876.2,623.6 875.8,624.3 875.5,625.1 C875.2,625.8 874.9,626.6 874.6,627.4 C874.3,628.2 874.1,629.0 873.9,629.8 C873.6,630.6 873.4,631.4 873.2,632.2 C873.0,633.0 872.9,633.8 872.7,634.7 C872.6,635.5 872.5,636.3 872.4,637.2 C872.3,638.0 872.2,638.8 872.2,639.7 C872.1,640.5 872.1,641.4 872.1,642.2 C872.1,643.0 872.1,643.9 872.2,644.7 C872.2,645.6 872.3,646.4 872.3,647.3 C872.4,648.1 872.5,648.9 872.7,649.8 C872.8,650.6 872.9,651.4 873.1,652.3 C873.3,653.1 873.5,653.9 873.7,654.7 C873.9,655.5 874.1,656.4 874.3,657.2 C874.6,658.0 874.8,658.8 875.1,659.6 C875.4,660.4 875.7,661.2 876.0,662.0 C876.4,662.7 876.7,663.5 877.0,664.3 C877.4,665.1 877.8,665.8 878.2,666.6 C878.6,667.3 879.0,668.1 879.4,668.8 C879.8,669.6 880.2,670.3 880.7,671.0 C881.1,671.7 881.6,672.4 882.1,673.1 C882.6,673.9 883.1,674.5 883.6,675.2 C884.1,675.9 884.6,676.6 885.2,677.2 C885.7,677.9 886.3,678.5 886.9,679.2 C887.4,679.8 888.0,680.4 888.6,681.0 C889.2,681.6 889.8,682.2 890.4,682.8 C891.0,683.4 891.7,683.9 892.3,684.5 C893.0,685.0 893.6,685.6 894.3,686.1 C895.0,686.6 895.6,687.1 896.3,687.6 C897.0,688.1 897.7,688.6 898.4,689.0 C899.1,689.5 899.8,689.9 900.6,690.3 C901.3,690.8 902.0,691.2 902.8,691.6 C903.5,691.9 904.3,692.3 905.0,692.7 C905.8,693.0 906.6,693.3 907.3,693.6 C908.1,693.9 908.9,694.2 909.7,694.5 C910.5,694.8 911.3,695.0 912.1,695.2 C912.9,695.5 913.7,695.7 914.5,695.9 C915.3,696.0 916.6,696.3 917.0,696.4 M962.3,694.5 C962.3,694.1 962.1,693.1 962.1,692.3 C962.0,691.6 962.0,690.9 962.1,690.1 C962.1,689.4 962.2,688.7 962.3,688.0 C962.3,687.3 962.4,686.6 962.6,685.9 C962.7,685.3 962.9,684.6 963.1,684.0 C963.3,683.3 963.5,682.7 963.7,682.0 C963.9,681.4 964.2,680.8 964.5,680.2 C964.8,679.6 965.1,679.0 965.4,678.4 C965.7,677.9 966.1,677.3 966.4,676.8 C966.8,676.2 967.2,675.7 967.6,675.2 C968.0,674.6 968.4,674.1 968.8,673.6 C969.3,673.1 969.7,672.7 970.2,672.2 C970.7,671.7 971.1,671.3 971.6,670.8 C972.1,670.4 972.7,670.0 973.2,669.6 C973.7,669.2 974.3,668.8 974.8,668.4 C975.4,668.0 975.9,667.7 976.5,667.3 C977.1,667.0 977.7,666.6 978.3,666.3 C978.9,666.0 979.5,665.7 980.1,665.4 C980.8,665.1 981.4,664.9 982.0,664.6 C982.7,664.4 983.3,664.1 984.0,663.9 C984.6,663.7 985.3,663.5 985.9,663.3 C986.6,663.1 987.3,662.9 987.9,662.8 C988.6,662.6 989.3,662.5 990.0,662.4 C990.7,662.3 991.3,662.1 992.0,662.1 C992.7,662.0 993.4,661.9 994.1,661.8 C994.8,661.8 995.5,661.7 996.2,661.7 C996.9,661.7 997.6,661.7 998.3,661.7 C998.9,661.7 999.6,661.7 1000.3,661.7 C1001.0,661.8 1001.7,661.8 1002.4,661.9 C1003.1,662.0 1003.8,662.1 1004.4,662.2 C1005.1,662.3 1005.8,662.4 1006.5,662.5 C1007.1,662.6 1007.8,662.8 1008.4,662.9 C1009.1,663.1 1009.8,663.3 1010.4,663.5 C1011.0,663.7 1011.7,663.9 1012.3,664.1 C1012.9,664.3 1013.9,664.6 1014.2,664.7" transform="translate(2048,0) scale(-1,1)"/>
</g>
<g fill="none" stroke="#c4952f" stroke-width="6.8" stroke-linecap="round">
<line x1="274.2" y1="403.8" x2="274.2" y2="405.5" stroke-width="6.8"/>
<line x1="287.7" y1="398.1" x2="287.7" y2="411.1" stroke-width="6.8"/>
<line x1="301.5" y1="392.0" x2="301.5" y2="418.6" stroke-width="6.8"/>
<line x1="314.8" y1="378.8" x2="314.8" y2="429.1" stroke-width="6.8"/>
<line x1="328.6" y1="364.0" x2="328.6" y2="446.1" stroke-width="6.8"/>
<line x1="341.9" y1="380.6" x2="341.9" y2="429.1" stroke-width="6.8"/>
<line x1="355.6" y1="395.0" x2="355.6" y2="413.8" stroke-width="6.8"/>
<line x1="369.3" y1="393.7" x2="369.3" y2="415.5" stroke-width="6.8"/>
<line x1="382.8" y1="376.2" x2="382.8" y2="432.6" stroke-width="6.8"/>
<line x1="396.6" y1="391.1" x2="396.6" y2="418.6" stroke-width="6.8"/>
<line x1="410.1" y1="400.3" x2="410.1" y2="409.8" stroke-width="6.8"/>
<path d="M475.7,366.5 L536.7,383.5 L555,421.4 L532.6,502.8 L443.1,477 Z" stroke-linejoin="round"/>
<path d="M536.7,383.5 L528.5,412 L555,421.4" stroke-linejoin="round"/>
<line x1="483.8" y1="395.7" x2="512.3" y2="403.8"/>
<line x1="471.6" y1="437" x2="527.9" y2="453.3"/>
<path d="M478.4,418.7 C486,414 492,413 489,420 C485,428 492,428 500,422 C505,418 506,424 506,428 C507,435 515,433 536,432.3"/>
<path d="M464.8,462.1 C472,457 480,454 482,461 C484,468 492,462 497,463 C502,465 506,467 512.3,466.8"/>
<g transform="translate(378.6,502) rotate(-11.5)"><rect x="-48.5" y="-34.5" width="97" height="69" rx="8"/><path d="M-47,-33 L-6,5 Q0,10 6,5 L47,-33" stroke-linejoin="round"/><path d="M-46,33 L-16,3 M46,33 L16,3"/></g>
<path d="M445.4,515.9 L466.9,520.8 L486.4,553.8 L470.5,624.8 L404,608.2 Q397,606.4 397.4,600.5 L397.7,598.5" stroke-linejoin="round"/>
<path d="M465.6,524.5 L460.7,548.9 L485.2,553.8" stroke-linejoin="round"/>
<line x1="412.4" y1="544" x2="409.2" y2="556.5"/>
<text x="0" y="0" transform="translate(394.5,590.5) rotate(13.5)" font-family="Liberation Sans" font-weight="bold" font-size="35" fill="#c4952f" stroke="#c4952f" stroke-width="1.2" stroke-linejoin="round" textLength="69" lengthAdjust="spacingAndGlyphs">PDF</text>
</g>
<rect x="0" y="1143" width="2048" height="1" fill="#f8f9f6"/>
</svg>
</body></html>
